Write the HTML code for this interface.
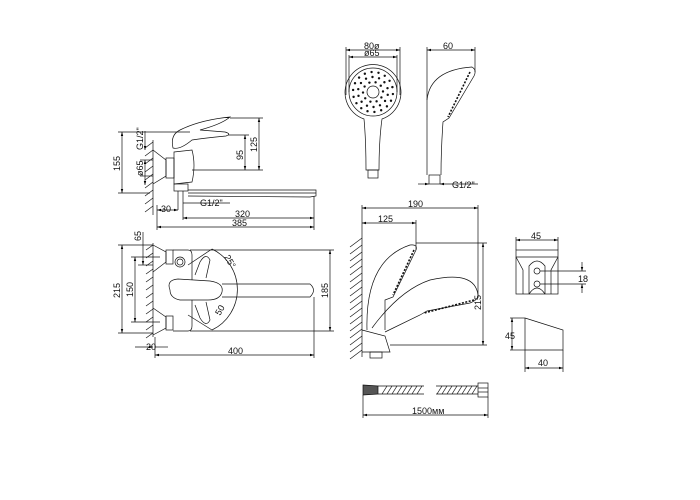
<!DOCTYPE html>
<html><head><meta charset="utf-8"><style>
html,body{margin:0;padding:0;background:#fff;}
svg{display:block}
.ln path,.ln rect,.ln circle,.ln polyline{fill:transparent;fill-opacity:0}
.ln .solid{fill:#555;fill-opacity:1}
.ln .wh{fill:#fff;fill-opacity:1}
#dots circle{fill:#111;fill-opacity:1}
text{font-family:"Liberation Sans",sans-serif;font-size:9px;fill:#111;fill-opacity:1}
</style></head><body>
<svg id="s" width="700" height="500" viewBox="0 0 700 500" xmlns="http://www.w3.org/2000/svg">
<defs>
<marker id="a" viewBox="0 0 10 10" refX="10" refY="5" markerWidth="6" markerHeight="6" orient="auto-start-reverse"><path d="M0,2 L10,5 L0,8 Z" fill="#000" stroke="none"/></marker>
</defs>
<g class="ln" fill="transparent" stroke="#111" stroke-width="0.7">
<line x1="153" y1="140" x2="153" y2="215"/>
<g id="h1"></g>
<path d="M153,150 L166,160 L166,176 L153,184"/>
<rect x="166" y="158" width="8" height="20"/>
<path d="M174,152 L192,150 Q196,165 192,182 L174,184 Z"/>
<path d="M173,148 Q170,135 180,130 Q200,120 230,117 Q222,124 200,130 L225,132 Q232,134 226,136 Q205,138 192,140 Q180,150 173,148 Z"/>
<rect x="174" y="184" width="14" height="7"/>
<line x1="178" y1="191" x2="178" y2="210"/>
<line x1="183" y1="191" x2="183" y2="210"/>
<path d="M188,190 L316,190 L316,196 L310,197 L188,196"/>
<line x1="188" y1="193" x2="316" y2="193"/>
<line x1="122" y1="132" x2="122" y2="193" marker-start="url(#a)" marker-end="url(#a)"/>
<line x1="118" y1="132" x2="190" y2="132"/>
<line x1="118" y1="193" x2="150" y2="193"/>
<line x1="145" y1="131" x2="145" y2="150" marker-end="url(#a)"/>
<line x1="145" y1="160" x2="145" y2="185" marker-start="url(#a)" marker-end="url(#a)"/>
<line x1="140" y1="160" x2="153" y2="160"/>
<line x1="140" y1="176" x2="153" y2="176"/>
<line x1="259" y1="118" x2="259" y2="170" marker-start="url(#a)" marker-end="url(#a)"/>
<line x1="230" y1="118" x2="263" y2="118"/>
<line x1="245" y1="135" x2="245" y2="170" marker-start="url(#a)" marker-end="url(#a)"/>
<line x1="228" y1="135" x2="249" y2="135"/>
<line x1="192" y1="170" x2="263" y2="170"/>
<line x1="157" y1="210" x2="178" y2="210" marker-start="url(#a)" marker-end="url(#a)"/>
<line x1="183" y1="203" x2="230" y2="203"/>
<line x1="183" y1="218" x2="314" y2="218" marker-start="url(#a)" marker-end="url(#a)"/>
<line x1="157" y1="227" x2="314" y2="227" marker-start="url(#a)" marker-end="url(#a)"/>
<line x1="157" y1="205" x2="157" y2="230"/>
<line x1="314" y1="196" x2="314" y2="230"/>
<line x1="183" y1="210" x2="183" y2="220"/>

<line x1="153" y1="243" x2="153" y2="337"/>
<g id="h2"></g>
<path d="M153,245 L166,252 L166,262 L153,272"/>
<path d="M153,308 L166,317 L166,328 L153,335"/>
<rect x="166" y="250" width="7" height="14"/>
<rect x="166" y="316" width="7" height="14"/>
<path d="M173,250 L188,250 Q192,250 192,255 L192,326 Q192,331 188,331 L173,331"/>
<circle cx="180" cy="262" r="5"/><circle cx="180" cy="262" r="3"/>
<path d="M212,249 A45,45 0 0 1 212,330"/>
<line x1="188" y1="265" x2="212" y2="249"/>
<line x1="188" y1="315" x2="212" y2="330"/>
<path d="M195,275 L200,262 Q206,252 210,260 L206,278"/>
<path d="M195,305 L200,318 Q206,328 210,320 L206,302"/>
<path class="wh" d="M170,290 Q166,280 178,279 L210,281 Q224,283 222,292 Q220,300 208,300 L180,300 Q170,298 170,290 Z"/>
<path d="M222,284 L310,284 Q317,290 310,297 L222,297"/>
<line x1="122" y1="245" x2="122" y2="333" marker-start="url(#a)" marker-end="url(#a)"/>
<line x1="118" y1="245" x2="153" y2="245"/>
<line x1="118" y1="333" x2="153" y2="333"/>
<line x1="135" y1="257" x2="135" y2="322" marker-start="url(#a)" marker-end="url(#a)"/>
<line x1="131" y1="257" x2="160" y2="257"/>
<line x1="131" y1="322" x2="160" y2="322"/>
<line x1="143" y1="232" x2="143" y2="265" marker-end="url(#a)"/>
<line x1="138" y1="265" x2="153" y2="265"/>
<line x1="190" y1="250" x2="334" y2="250"/>
<line x1="190" y1="331" x2="334" y2="331"/>
<line x1="330" y1="250" x2="330" y2="331" marker-start="url(#a)" marker-end="url(#a)"/>
<line x1="135" y1="347" x2="153" y2="347" marker-end="url(#a)"/>
<line x1="155" y1="347" x2="168" y2="347"/>
<line x1="155" y1="355" x2="314" y2="355" marker-start="url(#a)" marker-end="url(#a)"/>
<line x1="314" y1="297" x2="314" y2="358"/>
<line x1="155" y1="337" x2="155" y2="358"/>

<path d="M364,119 A28,28 0 1 1 382,119 Q379,140 379,170 L366,170 Q366,140 364,119 Z"/>
<circle cx="373" cy="92" r="24"/>
<circle cx="373" cy="92" r="6"/>
<rect x="368" y="170" width="10" height="8"/>
<line x1="346" y1="50" x2="400" y2="50" marker-start="url(#a)" marker-end="url(#a)"/>
<line x1="349" y1="57" x2="397" y2="57" marker-start="url(#a)" marker-end="url(#a)"/>
<line x1="346" y1="47" x2="346" y2="95"/>
<line x1="400" y1="47" x2="400" y2="95"/>
<line x1="349" y1="55" x2="349" y2="92"/>
<line x1="397" y1="55" x2="397" y2="92"/>

<path d="M427,175 L427,100 Q430,70 472,67 Q477,70 474,76 L449,118 L443,122 Q441,150 441,175"/>
<line x1="470" y1="72" x2="448" y2="117" stroke-dasharray="2,1.5" stroke-width="1.6"/>
<rect x="429" y="175" width="11" height="9"/>
<line x1="427" y1="50" x2="475" y2="50" marker-start="url(#a)" marker-end="url(#a)"/>
<line x1="427" y1="47" x2="427" y2="100"/>
<line x1="475" y1="47" x2="475" y2="72"/>
<line x1="418" y1="184" x2="429" y2="184" marker-end="url(#a)"/>
<line x1="440" y1="184" x2="478" y2="184" marker-start="url(#a)"/>

<line x1="362" y1="235" x2="362" y2="357"/>
<g id="h3"></g>
<path d="M362,330 L385,336 L390,352 L362,352"/>
<rect x="370" y="352" width="12" height="6"/>
<path d="M367,330 Q365,260 410,245 Q418,244 416,250 L393,297 L385,300 L385,330"/>
<line x1="414" y1="250" x2="393" y2="295" stroke-dasharray="2,1.5" stroke-width="1.6"/>
<path d="M372,328 Q400,290 430,280 Q475,270 478,295 Q478,300 470,303 L427,311 L420,315 L385,332"/>
<line x1="474" y1="300" x2="424" y2="313" stroke-dasharray="2,1.5" stroke-width="1.6"/>
<line x1="362" y1="208" x2="478" y2="208" marker-start="url(#a)" marker-end="url(#a)"/>
<line x1="362" y1="223" x2="416" y2="223" marker-start="url(#a)" marker-end="url(#a)"/>
<line x1="478" y1="205" x2="478" y2="298"/>
<line x1="416" y1="220" x2="416" y2="250"/>
<line x1="362" y1="205" x2="362" y2="235"/>
<line x1="416" y1="243" x2="487" y2="243"/>
<line x1="390" y1="345" x2="487" y2="345"/>
<line x1="483" y1="243" x2="483" y2="345" marker-start="url(#a)" marker-end="url(#a)"/>

<rect x="516" y="250" width="42" height="44"/>
<line x1="516" y1="257" x2="558" y2="257"/>
<polyline points="516,257 523,270 523,294"/>
<polyline points="558,257 551,270 551,294"/>
<path d="M529,294 L529,266 Q537,256 545,266 L545,294"/>
<path d="M529,294 Q537,282 545,294"/>
<circle cx="537" cy="271" r="3"/><circle cx="537" cy="284" r="3"/>
<line x1="516" y1="240" x2="558" y2="240" marker-start="url(#a)" marker-end="url(#a)"/>
<line x1="516" y1="237" x2="516" y2="250"/>
<line x1="558" y1="237" x2="558" y2="250"/>
<line x1="540" y1="271" x2="586" y2="271"/>
<line x1="540" y1="284" x2="586" y2="284"/>
<line x1="582" y1="262" x2="582" y2="271" marker-end="url(#a)"/>
<line x1="582" y1="293" x2="582" y2="284" marker-end="url(#a)"/>

<path d="M525,318 L525,350 L563,350 L563,330 L525,318"/>
<line x1="510" y1="318" x2="525" y2="318"/>
<line x1="510" y1="350" x2="525" y2="350"/>
<line x1="512" y1="318" x2="512" y2="350" marker-start="url(#a)" marker-end="url(#a)"/>
<line x1="525" y1="368" x2="563" y2="368" marker-start="url(#a)" marker-end="url(#a)"/>
<line x1="525" y1="350" x2="525" y2="372"/>
<line x1="563" y1="350" x2="563" y2="372"/>

<path class="solid" d="M363,385 L378,386 L378,394 L363,395 Z"/>
<line x1="378" y1="386" x2="424" y2="386"/><line x1="378" y1="394" x2="424" y2="394"/>
<line x1="436" y1="386" x2="478" y2="386"/><line x1="436" y1="394" x2="478" y2="394"/>
<g id="hh"></g>
<rect x="478" y="383" width="10" height="14"/>
<line x1="478" y1="388" x2="488" y2="388"/><line x1="478" y1="392" x2="488" y2="392"/>
<line x1="363" y1="395" x2="363" y2="418"/>
<line x1="488" y1="397" x2="488" y2="418"/>
<line x1="363" y1="415" x2="488" y2="415" marker-start="url(#a)" marker-end="url(#a)"/>
</g>
<g id="dots" stroke="none"></g>

<text transform="translate(120,171) rotate(-90)">155</text>
<text transform="translate(143,150) rotate(-90)">G1/2"</text>
<text transform="translate(143,176) rotate(-90)">ø65</text>
<text transform="translate(257,152) rotate(-90)">125</text>
<text transform="translate(243,160) rotate(-90)">95</text>
<text x="161" y="212">30</text>
<text x="200" y="206">G1/2"</text>
<text x="235" y="217">320</text>
<text x="232" y="226">385</text>
<text transform="translate(141,241) rotate(-90)">65</text>
<text transform="translate(120,298) rotate(-90)">215</text>
<text transform="translate(133,297) rotate(-90)">150</text>
<text transform="translate(328,298) rotate(-90)">185</text>
<text transform="translate(224,257) rotate(60)">25°</text>
<text transform="translate(220,316) rotate(-60)">50</text>
<text x="146" y="350">20</text>
<text x="228" y="354">400</text>
<text x="364" y="49">80ø</text>
<text x="364" y="56">ø65</text>
<text x="443" y="49">60</text>
<text x="452" y="188">G1/2"</text>
<text x="408" y="207">190</text>
<text x="378" y="222">125</text>
<text transform="translate(481,310) rotate(-90)">215</text>
<text x="531" y="239">45</text>
<text x="578" y="282">18</text>
<text x="505" y="339">45</text>
<text x="538" y="366">40</text>
<text x="412" y="414">1500мм</text>
</svg>
<script>
(function(){
var NS="http://www.w3.org/2000/svg";
function add(id,tag,at){var e=document.createElementNS(NS,tag);for(var k in at)e.setAttribute(k,at[k]);document.getElementById(id).appendChild(e);}
for(var y=142;y<214;y+=8)add("h1","line",{x1:145,y1:y+6,x2:153,y2:y});
for(var y=245;y<336;y+=8)add("h2","line",{x1:146,y1:y+5,x2:153,y2:y});
for(var y=238;y<356;y+=7)add("h3","line",{x1:350,y1:y+9,x2:362,y2:y});
for(var x=382;x<476;x+=5){if(x>420&&x<436)continue;add("hh","line",{x1:x,y1:394,x2:x+5,y2:386});}
var rings=[[10,10],[15,14],[20,18]];
rings.forEach(function(r){for(var i=0;i<r[1];i++){var t=i*2*Math.PI/r[1]+r[0];add("dots","circle",{cx:373+r[0]*Math.cos(t),cy:92+r[0]*Math.sin(t),r:1.2});}});
})();
</script>
</body></html>
